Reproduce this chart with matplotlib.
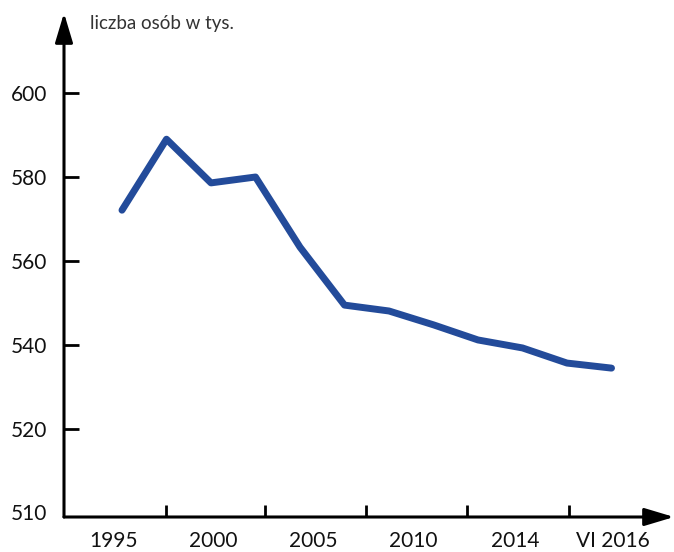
import matplotlib.pyplot as plt
import numpy as np

# values (thousands of people), one per period
values = [572.1, 589.0, 578.6, 580.0, 563.3, 549.5, 548.1, 544.8, 541.2, 539.3, 535.7, 534.5]

# category axis labels and where they sit (in index units)
x_labels = ['1995', '2000', '2005', '2010', '2014', 'VI 2016']
x_label_pos = [-0.18, 2.05, 4.29, 6.54, 8.83, 11.03]
x_tick_pos = [0.99, 3.21, 5.48, 7.75, 10.04]

y_ticks = [520, 540, 560, 580, 600]

plt.rcParams['font.family'] = ['Lato', 'DejaVu Sans']

fig = plt.figure(figsize=(6.74, 5.52), dpi=100)
ax = fig.add_axes([64 / 674, 35 / 552, 610 / 674, 504 / 552])

x = np.arange(len(values))
ax.plot(x, values, color='#234b9a', lw=5, solid_capstyle='round',
        solid_joinstyle='round', clip_on=False)

ax.set_xlim(-1.303, 12.404)
ax.set_ylim(499.05, 619.05)

for s in ax.spines.values():
    s.set_visible(False)

# axes drawn as arrows
arrow = dict(arrowstyle='-|>,head_length=1.0,head_width=0.3', color='black',
             lw=2.2, mutation_scale=18, shrinkA=0, shrinkB=0)
ax.annotate('', xy=(1, 0), xytext=(0, 0), xycoords='axes fraction', arrowprops=arrow)
ax.annotate('', xy=(0, 1), xytext=(0, 0), xycoords='axes fraction', arrowprops=arrow)

# x: tick marks without labels, labels without tick marks
ax.set_xticks(x_tick_pos)
ax.set_xticklabels([])
ax.tick_params(axis='x', which='major', direction='in', length=9, width=2)
ax.set_xticks(x_label_pos, minor=True)
ax.set_xticklabels(x_labels, minor=True)
ax.tick_params(axis='x', which='minor', length=0, pad=10, labelsize=15, labelcolor='#111111')

ax.set_yticks(y_ticks)
ax.set_yticklabels([str(v) for v in y_ticks])
ax.tick_params(axis='y', which='major', direction='in', length=10.5, width=2,
               pad=12, labelsize=15, labelcolor='#111111')
ax.set_yticks([500.3], minor=True)
ax.set_yticklabels(['510'], minor=True)
ax.tick_params(axis='y', which='minor', length=0, pad=12, labelsize=15, labelcolor='#111111')

fig.text(90 / 674, 1 - 24 / 552, 'liczba osób w tys.', fontsize=13.5, color='#333333',
         ha='left', va='center')

fig.savefig('out.png', dpi=100)
